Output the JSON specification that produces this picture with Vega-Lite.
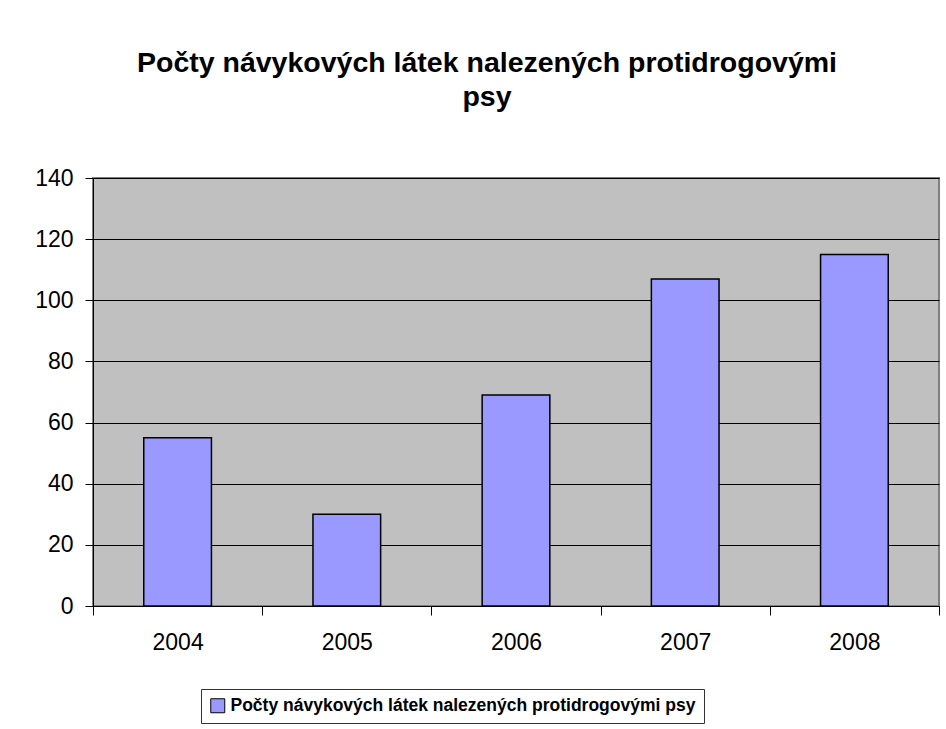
{
  "$schema": "https://vega.github.io/schema/vega-lite/v6.json",
  "autosize": "none",
  "width": 846,
  "height": 428,
  "padding": {"left": 93, "top": 178, "right": 7, "bottom": 123},
  "background": "white",
  "data": {"values": [
    {"year": "2004", "count": 55},
    {"year": "2005", "count": 30},
    {"year": "2006", "count": 69},
    {"year": "2007", "count": 107},
    {"year": "2008", "count": 115}
  ]},
  "title": {
    "text": ["Počty návykových látek nalezených protidrogovými", "psy"],
    "font": "Liberation Sans",
    "fontSize": 28.5,
    "fontWeight": "bold",
    "color": "black",
    "anchor": "middle",
    "dx": -29,
    "lineHeight": 34,
    "offset": 56
  },
  "mark": {"type": "bar", "width": {"band": 0.4}, "stroke": "black", "strokeWidth": 1.5},
  "encoding": {
    "x": {
      "field": "year",
      "type": "nominal",
      "scale": {"paddingInner": 0, "paddingOuter": 0},
      "axis": {
        "title": null,
        "labelAngle": 0,
        "tickBand": "extent",
        "labelFont": "Liberation Sans",
        "labelFontSize": 23,
        "labelColor": "black",
        "labelPadding": 16,
        "domainColor": "black",
        "tickColor": "black",
        "tickSize": 9,
        "grid": false
      }
    },
    "y": {
      "field": "count",
      "type": "quantitative",
      "scale": {"domain": [0, 140]},
      "axis": {
        "title": null,
        "values": [0, 20, 40, 60, 80, 100, 120, 140],
        "labelFont": "Liberation Sans",
        "labelFontSize": 23,
        "labelColor": "black",
        "labelPadding": 12,
        "domainColor": "black",
        "tickColor": "black",
        "tickSize": 8,
        "grid": true,
        "gridColor": "black",
        "gridOpacity": 1,
        "gridWidth": 1
      }
    },
    "color": {
      "datum": "Počty návykových látek nalezených protidrogovými psy",
      "type": "nominal",
      "scale": {"range": ["#9999ff"]},
      "legend": {
        "title": null,
        "orient": "none",
        "legendX": 108,
        "legendY": 511,
        "strokeColor": "#333333",
        "fillColor": "white",
        "padding": 8,
        "symbolType": "square",
        "symbolSize": 196,
        "symbolStrokeColor": "black",
        "symbolStrokeWidth": 1,
        "labelFont": "Liberation Sans",
        "labelFontSize": 17.5,
        "labelFontWeight": "bold",
        "labelColor": "black",
        "labelLimit": 800,
        "labelOffset": 4
      }
    }
  },
  "config": {
    "view": {"fill": "#c0c0c0", "stroke": "#808080", "strokeWidth": 2}
  }
}
